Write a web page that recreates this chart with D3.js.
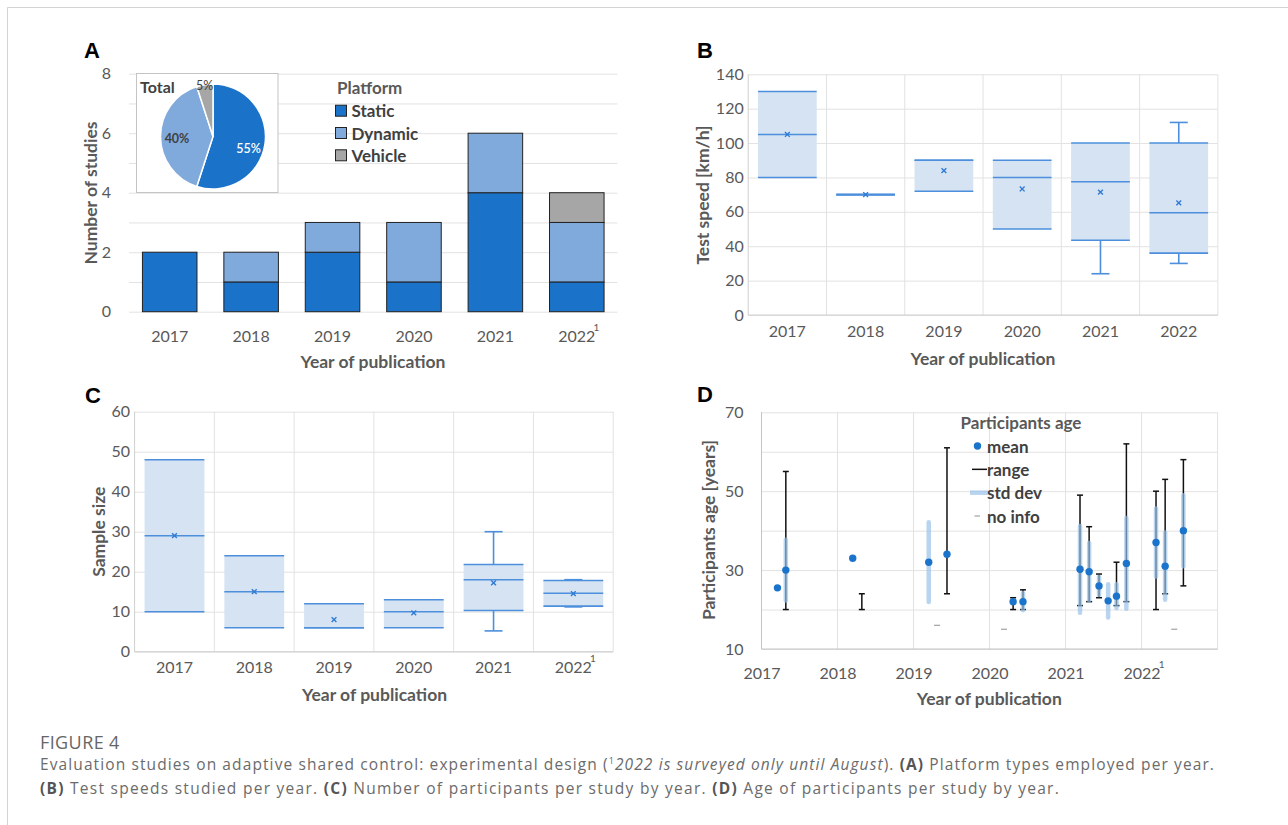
<!DOCTYPE html>
<html>
<head>
<meta charset="utf-8">
<script src="https://cdn.jsdelivr.net/npm/d3@7"></script>
<style>
  body { margin: 0; background: #fff; }
  svg { display: block; }
</style>
</head>
<body>
<svg id="fig" width="1288" height="825"></svg>
<script>
// ---------- data ----------
const years = ["2017", "2018", "2019", "2020", "2021", "2022"];
const footnoteYear = "2022";

// (A) platform types per year
const platformNames = ["Static", "Dynamic", "Vehicle"];
const staticCounts  = [2, 1, 2, 1, 4, 1];
const dynamicCounts = [0, 1, 1, 2, 2, 2];
const vehicleCounts = [0, 0, 0, 0, 0, 1];
const countTicks = [0, 2, 4, 6, 8];

// (B) test speed [km/h]
const speedMin    = [80, 70, 72, 50, 24, 30];
const speedQ1     = [80, 70, 72, 50, 43.5, 36];
const speedMedian = [105, 70, 90, 80, 77.5, 59.5];
const speedQ3     = [130, 70, 90, 90, 100, 100];
const speedMax    = [130, 70, 90, 90, 100, 112];
const speedMean   = [105, 70, 84, 73.3, 71.5, 65.2];
const speedTicks  = [0, 20, 40, 60, 80, 100, 120, 140];

// (C) sample size
const sampleMin    = [10, 6, 6, 6, 5.2, 11.2];
const sampleQ1     = [10, 6, 6, 6, 10.3, 11.4];
const sampleMedian = [29, 15, 6, 10, 18, 14.6];
const sampleQ3     = [48, 24, 12, 13, 21.8, 17.8];
const sampleMax    = [48, 24, 12, 13, 30, 18];
const sampleMean   = [29, 15, 8, 9.7, 17.2, 14.5];
const sampleTicks  = [0, 10, 20, 30, 40, 50, 60];

// (D) participants age, one entry per study (position along the year axis)
const agePos    = [2017.21, 2017.32, 2018.20, 2018.32, 2019.20, 2019.31, 2019.44, 2020.19, 2020.31, 2020.44,
                   2021.19, 2021.31, 2021.44, 2021.56, 2021.67, 2021.80, 2022.19, 2022.31, 2022.43, 2022.55];
const ageMean   = [25.5, 30, 33, null, 32, null, 34, null, 22, 22,
                   30.2, 29.6, 26, 22.2, 23.4, 31.7, 37, 31, null, 40];
const ageSd     = [null, 7.7, null, null, 10.1, null, null, null, null, 2.2,
                   11, 7.3, 2.3, 4.2, 3, 11.5, 8.6, 8.5, null, 9];
const ageMin    = [null, 20, null, 20, null, null, 24, null, 20, 20,
                   21, 22, 23, null, 21, 22, 20, 24, null, 26];
const ageMax    = [null, 55, null, 24, null, null, 61, null, 23, 25,
                   49, 41, 29, null, 32, 62, 50, 53, null, 58];
const ageNoInfo = [null, null, null, null, null, 16, null, 15, null, null,
                   null, null, null, null, null, null, null, null, 15, null];
const ageTicks  = [10, 30, 50, 70];
const ageLegend = ["mean", "range", "std dev", "no info"];

// ---------- styling ----------
const FONT = "Lato, 'Open Sans', sans-serif";
const TICK = "#595959", TITLE = "#595959", GRID = "#e2e2e2", AXIS = "#cfcfcf";
const C_STATIC = "#1b72c9", C_DYNAMIC = "#80aadc", C_VEHICLE = "#a6a6a6";
const BOX_FILL = "#d5e3f3", BOX_LINE = "#4d8fdc", MEAN_X = "#2f7bd6";
const DOT = "#1b74cc", SD = "rgba(150,192,232,0.68)";
const TITLE_SIZE = 17.5, LEGEND_SIZE = 17;

const svg = d3.select("#fig");
svg.append("rect").attr("width", 1288).attr("height", 825).attr("fill", "#fff");
svg.append("path").attr("d", "M7.5,825V7.5H1288").attr("fill", "none").attr("stroke", "#d3d3d3");

// ---------- helpers ----------
function panelLetter(t, x, y) {
  svg.append("text").attr("x", x).attr("y", y).text(t)
    .attr("font-family", "'Liberation Sans', Arial, sans-serif")
    .attr("font-weight", 700).attr("font-size", 22).attr("fill", "#000");
}
function yTitle(t, cx, cy) {
  svg.append("text").attr("transform", `translate(${cx},${cy}) rotate(-90)`)
    .attr("text-anchor", "middle").attr("dominant-baseline", "central")
    .attr("font-family", FONT).attr("font-weight", 700).attr("font-size", TITLE_SIZE)
    .attr("fill", TITLE).text(t);
}
function xTitle(t, cx, cy) {
  svg.append("text").attr("x", cx).attr("y", cy)
    .attr("text-anchor", "middle").attr("dominant-baseline", "central")
    .attr("font-family", FONT).attr("font-weight", 700).attr("font-size", TITLE_SIZE)
    .attr("fill", TITLE).text(t);
}
function styleAxis(g) {
  g.select(".domain").remove();
  g.attr("font-family", FONT).attr("font-size", 16).style("color", TICK);
}
function addFootnoteMark(g) {
  g.selectAll(".tick").filter(d => String(d) === footnoteYear).each(function () {
    const tick = d3.select(this);
    const w = tick.select("text").node().getComputedTextLength();
    tick.append("text").attr("x", w / 2 + 1).attr("y", -5)
      .attr("font-size", 10).attr("fill", TICK).text("1");
  });
}
function bottomLabels(x, y0, footnote) {
  const g = svg.append("g").attr("transform", `translate(0,${y0})`)
    .call(d3.axisBottom(x).tickSize(0).tickPadding(0));
  styleAxis(g);
  g.selectAll("text").attr("dy", "0.35em");
  if (footnote) addFootnoteMark(g);
  return g;
}
function leftLabels(y, x0, ticks) {
  const g = svg.append("g").attr("transform", `translate(${x0},0)`)
    .call(d3.axisLeft(y).tickValues(ticks).tickSize(0).tickPadding(0));
  styleAxis(g);
  return g;
}
function hGrid(y, x0, x1, values) {
  const g = svg.append("g").attr("transform", `translate(${x0},0)`)
    .call(d3.axisLeft(y).tickValues(values).tickSize(-(x1 - x0)).tickFormat(""));
  g.select(".domain").remove();
  g.selectAll("line").attr("stroke", GRID);
}

// ---------- (A) stacked bars ----------
(function () {
  const x = d3.scaleBand().domain(years).range([129, 617.5]).paddingInner(0.33).paddingOuter(0.165);
  const y = d3.scaleLinear().domain([0, 8]).range([311.7, 73.7]);
  hGrid(y, 129, 617.5, d3.range(0, 9));

  const rows = years.map((yr, i) => ({ year: yr, Static: staticCounts[i], Dynamic: dynamicCounts[i], Vehicle: vehicleCounts[i] }));
  const stack = d3.stack().keys(platformNames)(rows);
  const colors = d3.scaleOrdinal().domain(platformNames).range([C_STATIC, C_DYNAMIC, C_VEHICLE]);

  svg.append("g").selectAll("g").data(stack).join("g")
    .attr("fill", d => colors(d.key))
    .selectAll("rect").data(d => d.filter(s => s[1] > s[0])).join("rect")
    .attr("x", d => x(d.data.year)).attr("width", x.bandwidth())
    .attr("y", d => y(d[1])).attr("height", d => y(d[0]) - y(d[1]))
    .attr("stroke", "#222").attr("stroke-width", 1);

  leftLabels(y, 111, countTicks);
  bottomLabels(x, 336, true);
  yTitle("Number of studies", 90, 193);
  xTitle("Year of publication", 373, 361.5);
  panelLetter("A", 84, 58);

  // legend
  const lg = svg.append("g");
  lg.append("text").attr("x", 337).attr("y", 87).attr("dominant-baseline", "central")
    .attr("font-family", FONT).attr("font-weight", 700).attr("font-size", LEGEND_SIZE).attr("fill", TITLE).text("Platform");
  const rowY = d3.scalePoint().domain(platformNames).range([110.7, 155.3]);
  const item = lg.selectAll("g.item").data(platformNames).join("g").attr("class", "item")
    .attr("transform", d => `translate(335.5,${rowY(d)})`);
  item.append("rect").attr("x", 0).attr("y", -5.5).attr("width", 11).attr("height", 11)
    .attr("fill", d => colors(d)).attr("stroke", "#222");
  item.append("text").attr("x", 16).attr("dominant-baseline", "central")
    .attr("font-family", FONT).attr("font-weight", 700).attr("font-size", LEGEND_SIZE).attr("fill", "#404040")
    .text(d => d);

  // inset pie of totals
  svg.append("rect").attr("x", 136.5).attr("y", 73.5).attr("width", 141.5).attr("height", 119)
    .attr("fill", "#fff").attr("stroke", "#c4c4c4");
  const totals = [d3.sum(staticCounts), d3.sum(dynamicCounts), d3.sum(vehicleCounts)];
  const grand = d3.sum(totals);
  const pie = d3.pie().sort(null)(totals);
  const r = 52.5;
  const arc = d3.arc().innerRadius(0).outerRadius(r);
  const pg = svg.append("g").attr("transform", "translate(213,136.5)");
  pg.selectAll("path").data(pie).join("path")
    .attr("d", arc).attr("fill", (d, i) => colors(platformNames[i]))
    .attr("stroke", "#fff").attr("stroke-width", 1.5);
  const labelR = [36, 36, 54];
  const labelFill = ["#fff", "#404040", "#404040"];
  const labelWeight = [600, 700, 400];
  pg.selectAll("text").data(pie).join("text")
    .attr("transform", (d, i) => {
      const c = d3.arc().innerRadius(labelR[i]).outerRadius(labelR[i]).centroid(d);
      return `translate(${c[0]},${c[1] + (i === 0 ? 6 : 2)})`;
    })
    .attr("text-anchor", "middle").attr("dominant-baseline", "central")
    .attr("font-family", FONT).attr("font-size", 12.5)
    .attr("font-weight", (d, i) => labelWeight[i]).attr("fill", (d, i) => labelFill[i])
    .text(d => Math.round(d.value / grand * 100) + "%");
  svg.append("text").attr("x", 140).attr("y", 92.5)
    .attr("font-family", FONT).attr("font-weight", 700).attr("font-size", 16).attr("fill", "#404040").text("Total");
})();

// ---------- box plot panels (B, C) ----------
function boxPanel(opt) {
  const x = d3.scaleBand().domain(years).range(opt.xr).paddingInner(0.25).paddingOuter(0.125);
  const y = d3.scaleLinear().domain(opt.domain).range(opt.yr);
  hGrid(y, opt.xr[0], opt.xr[1], opt.ticks);
  // vertical separators between years
  const bounds = d3.range(1, years.length + 1).map(i => opt.xr[0] + i * x.step());
  svg.append("g").selectAll("line").data(bounds).join("line")
    .attr("x1", d => d).attr("x2", d => d).attr("y1", opt.yr[1]).attr("y2", opt.yr[0]).attr("stroke", GRID);
  // axis lines
  svg.append("line").attr("x1", opt.xr[0]).attr("x2", opt.xr[0]).attr("y1", opt.yr[1]).attr("y2", opt.yr[0]).attr("stroke", AXIS);
  svg.append("line").attr("x1", opt.xr[0]).attr("x2", opt.xr[1]).attr("y1", opt.yr[0]).attr("y2", opt.yr[0]).attr("stroke", AXIS);

  const rows = years.map((yr, i) => ({
    year: yr, min: opt.min[i], q1: opt.q1[i], med: opt.med[i], q3: opt.q3[i], max: opt.max[i], mean: opt.mean[i]
  }));
  const bw = x.bandwidth(), cap = 9;
  const g = svg.append("g").selectAll("g").data(rows).join("g")
    .attr("transform", d => `translate(${x(d.year)},0)`);
  g.append("rect").attr("x", 0).attr("width", bw)
    .attr("y", d => y(d.q3)).attr("height", d => y(d.q1) - y(d.q3)).attr("fill", BOX_FILL);
  // whiskers
  g.filter(d => d.max > d.q3).call(s => {
    s.append("line").attr("x1", bw / 2).attr("x2", bw / 2).attr("y1", d => y(d.q3)).attr("y2", d => y(d.max));
    s.append("line").attr("x1", bw / 2 - cap).attr("x2", bw / 2 + cap).attr("y1", d => y(d.max)).attr("y2", d => y(d.max));
  });
  g.filter(d => d.min < d.q1).call(s => {
    s.append("line").attr("x1", bw / 2).attr("x2", bw / 2).attr("y1", d => y(d.q1)).attr("y2", d => y(d.min));
    s.append("line").attr("x1", bw / 2 - cap).attr("x2", bw / 2 + cap).attr("y1", d => y(d.min)).attr("y2", d => y(d.min));
  });
  ["q1", "med", "q3"].forEach(k => {
    g.append("line").attr("x1", 0).attr("x2", bw).attr("y1", d => y(d[k])).attr("y2", d => y(d[k]));
  });
  g.selectAll("line").attr("stroke", BOX_LINE).attr("stroke-width", 1.6);
  // mean marker
  g.append("path").attr("d", d => {
    const cx = bw / 2, cy = y(d.mean), s = 2.4;
    return `M${cx - s},${cy - s}L${cx + s},${cy + s}M${cx - s},${cy + s}L${cx + s},${cy - s}`;
  }).attr("stroke", MEAN_X).attr("stroke-width", 1.4).attr("fill", "none");

  leftLabels(y, opt.xr[0] - 4.5, opt.ticks);
  bottomLabels(x, opt.labelY, opt.footnote);
}

boxPanel({
  xr: [748.2, 1217.9], yr: [315, 74.3], domain: [0, 140], ticks: speedTicks,
  min: speedMin, q1: speedQ1, med: speedMedian, q3: speedQ3, max: speedMax, mean: speedMean,
  labelY: 331.7, footnote: false
});
yTitle("Test speed [km/h]", 702.5, 195);
xTitle("Year of publication", 983, 358.3);
panelLetter("B", 697, 58);

boxPanel({
  xr: [134.6, 613.2], yr: [651.7, 411.7], domain: [0, 60], ticks: sampleTicks,
  min: sampleMin, q1: sampleQ1, med: sampleMedian, q3: sampleQ3, max: sampleMax, mean: sampleMean,
  labelY: 667.3, footnote: true
});
yTitle("Sample size", 98, 531.7);
xTitle("Year of publication", 374.6, 694);
panelLetter("C", 85, 402.7);

// ---------- (D) participants age ----------
(function () {
  const x = d3.scaleLinear().domain([2017, 2023]).range([761.5, 1217.6]);
  const y = d3.scaleLinear().domain([10, 70]).range([649, 412.3]);
  hGrid(y, 761.5, 1217.6, d3.range(10, 71, 10));
  svg.append("g").selectAll("line").data(d3.range(2018, 2024)).join("line")
    .attr("x1", d => x(d)).attr("x2", d => x(d)).attr("y1", y(70)).attr("y2", y(10)).attr("stroke", GRID);
  svg.append("line").attr("x1", x(2017)).attr("x2", x(2017)).attr("y1", y(70)).attr("y2", y(10)).attr("stroke", "#c4c4c4");
  svg.append("line").attr("x1", x(2017)).attr("x2", x(2023)).attr("y1", y(10)).attr("y2", y(10)).attr("stroke", "#c4c4c4");

  const studies = agePos.map((p, i) => ({
    pos: p, mean: ageMean[i], sd: ageSd[i], min: ageMin[i], max: ageMax[i], noInfo: ageNoInfo[i]
  }));
  const cap = 3;
  // range
  const rg = svg.append("g").attr("stroke", "#111").attr("stroke-width", 1.5)
    .selectAll("g").data(studies.filter(d => d.min !== null)).join("g");
  rg.append("line").attr("x1", d => x(d.pos)).attr("x2", d => x(d.pos)).attr("y1", d => y(d.min)).attr("y2", d => y(d.max));
  rg.append("line").attr("x1", d => x(d.pos) - cap).attr("x2", d => x(d.pos) + cap).attr("y1", d => y(d.min)).attr("y2", d => y(d.min));
  rg.append("line").attr("x1", d => x(d.pos) - cap).attr("x2", d => x(d.pos) + cap).attr("y1", d => y(d.max)).attr("y2", d => y(d.max));
  // standard deviation
  svg.append("g").selectAll("line").data(studies.filter(d => d.sd !== null)).join("line")
    .attr("x1", d => x(d.pos)).attr("x2", d => x(d.pos))
    .attr("y1", d => y(d.mean - d.sd)).attr("y2", d => y(d.mean + d.sd))
    .attr("stroke", SD).attr("stroke-width", 4.5).attr("stroke-linecap", "round");
  // no information
  svg.append("g").selectAll("line").data(studies.filter(d => d.noInfo !== null)).join("line")
    .attr("x1", d => x(d.pos) - 3).attr("x2", d => x(d.pos) + 3)
    .attr("y1", d => y(d.noInfo)).attr("y2", d => y(d.noInfo))
    .attr("stroke", "#a9a9a9").attr("stroke-width", 1.3);
  // mean
  svg.append("g").selectAll("circle").data(studies.filter(d => d.mean !== null)).join("circle")
    .attr("cx", d => x(d.pos)).attr("cy", d => y(d.mean)).attr("r", 3.7).attr("fill", DOT);

  leftLabels(y, 743.6, ageTicks);
  const gx = svg.append("g").attr("transform", "translate(0,673.3)")
    .call(d3.axisBottom(x).tickValues(d3.range(2017, 2023)).tickFormat(d3.format("d")).tickSize(0).tickPadding(0));
  styleAxis(gx);
  gx.selectAll("text").attr("dy", "0.35em");
  addFootnoteMark(gx);

  yTitle("Participants age [years]", 708, 530);
  xTitle("Year of publication", 989.3, 698.3);
  panelLetter("D", 697, 401.7);

  // legend
  svg.append("text").attr("x", 1021).attr("y", 422.3).attr("text-anchor", "middle").attr("dominant-baseline", "central")
    .attr("font-family", FONT).attr("font-weight", 700).attr("font-size", LEGEND_SIZE).attr("fill", TITLE).text("Participants age");
  const ly = d3.scalePoint().domain(ageLegend).range([446, 516]);
  const li = svg.append("g").selectAll("g").data(ageLegend).join("g")
    .attr("transform", d => `translate(0,${ly(d)})`);
  li.append("text").attr("x", 987).attr("dominant-baseline", "central")
    .attr("font-family", FONT).attr("font-weight", 700).attr("font-size", LEGEND_SIZE).attr("fill", "#404040").text(d => d);
  li.filter(d => d === "mean").append("circle").attr("cx", 977.5).attr("r", 3.7).attr("fill", DOT);
  li.filter(d => d === "range").append("line").attr("x1", 972).attr("x2", 987).attr("stroke", "#111").attr("stroke-width", 1.5);
  li.filter(d => d === "std dev").append("line").attr("x1", 970).attr("x2", 988).attr("stroke", SD).attr("stroke-width", 4.5);
  li.filter(d => d === "no info").append("line").attr("x1", 974.5).attr("x2", 980).attr("stroke", "#a9a9a9").attr("stroke-width", 1.3);
})();

// ---------- caption ----------
(function () {
  const CAP = "'Open Sans', Lato, sans-serif";
  svg.append("text").attr("x", 40).attr("y", 748.5).attr("font-family", CAP).attr("font-size", 18)
    .attr("fill", "#666").attr("letter-spacing", 0.4).text("FIGURE 4");
  const lines = [
    { y: 770.3, width: 1175, parts: [
      { t: "Evaluation studies on adaptive shared control: experimental design (" },
      { t: "1", sup: true },
      { t: "2022 is surveyed only until August", it: true },
      { t: "). " },
      { t: "(A)", b: true },
      { t: " Platform types employed per year." }] },
    { y: 794, width: 1020, parts: [
      { t: "(B)", b: true },
      { t: " Test speeds studied per year. " },
      { t: "(C)", b: true },
      { t: " Number of participants per study by year. " },
      { t: "(D)", b: true },
      { t: " Age of participants per study by year." }] }
  ];
  lines.forEach(L => {
    const t = svg.append("text").attr("x", 40).attr("y", L.y).attr("font-family", CAP)
      .attr("font-size", 15.5).attr("fill", "#6b6b6b");
    L.parts.forEach(p => {
      const s = t.append("tspan").text(p.t);
      if (p.b) s.attr("font-weight", 700).attr("fill", "#555");
      if (p.it) s.attr("font-style", "italic");
      if (p.sup) s.attr("font-size", 9).attr("baseline-shift", "super");
    });
    const n = L.parts.reduce((a, p) => a + p.t.length, 0);
    const w = t.node().getComputedTextLength();
    t.attr("letter-spacing", (L.width - w) / n);
  });
})();
</script>
</body>
</html>
